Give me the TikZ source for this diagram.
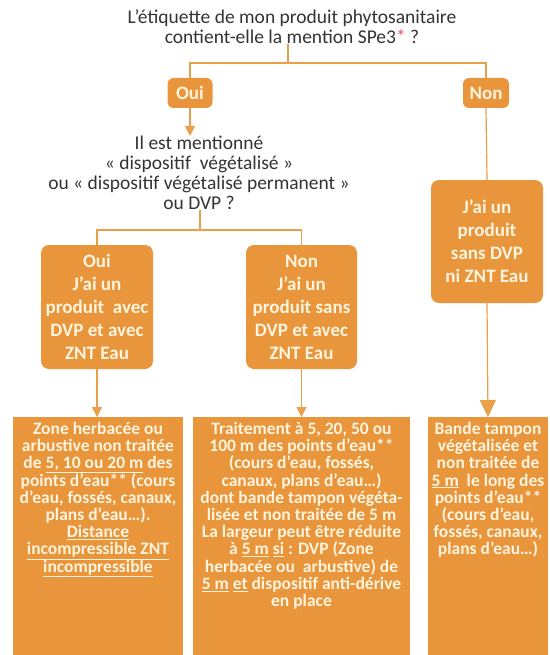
\documentclass[tikz,border=0pt]{standalone}
\usepackage{fontspec}
\setmainfont{Carlito}
\usetikzlibrary{arrows.meta}

\definecolor{boxorange}{HTML}{E8953C}
\definecolor{lineorange}{HTML}{E8A04A}
\definecolor{boxtext}{HTML}{FFF4DE}
\definecolor{asktext}{HTML}{333333}
\definecolor{starred}{HTML}{E8505B}

\setlength{\lineskiplimit}{-30pt}

\begin{document}
\begin{tikzpicture}[x=1pt, y=-1pt,
    link/.style={draw=lineorange, line width=1.2pt},
    tip/.style={-{Triangle[width=10pt,length=10pt]}},
    bigtip/.style={-{Triangle[width=16pt,length=17pt]}},
    answer/.style={fill=boxorange, text=boxtext, rounded corners=6pt, inner sep=0pt,
        align=center, font=\fontsize{19}{23}\selectfont\bfseries},
    outcome/.style={fill=boxorange, inner sep=0pt, anchor=north},
    outtext/.style={text=boxtext, inner sep=0pt, anchor=north, align=center,
        font=\fontsize{17.5}{17.2}\selectfont\bfseries},
    ask/.style={text=asktext, align=center, inner sep=0pt, font=\fontsize{19.5}{20}\selectfont}]

    \useasboundingbox (0,0) rectangle (549,655);

    \def\cinq{\underline{5 m}}

    % question de depart
    \node[ask] (label) at (292,27) {L’étiquette de mon produit phytosanitaire\\
        contient-elle la mention SPe3\textcolor{starred}{*} ?};
    \coordinate (split) at (288,63);

    \node[answer, minimum width=45pt, minimum height=30pt] (oui) at (190,93) {Oui};
    \node[answer, minimum width=46pt, minimum height=30pt] (non) at (486,93) {Non};

    \node[ask] (mention) at (199,173) {Il est mentionné\\
        « dispositif\ \ végétalisé »\\
        ou « dispositif végétalisé permanent »\\
        ou DVP ?};
    \coordinate (fork) at (200,230);

    \node[answer, rounded corners=8pt, minimum width=112pt, minimum height=124pt] (avec) at (97,307)
        {Oui\\J’ai un\\produit\ \ avec\\DVP et avec\\ZNT Eau};
    \node[answer, rounded corners=8pt, minimum width=111pt, minimum height=124pt] (sans) at (301.5,307)
        {Non\\J’ai un\\produit sans\\DVP et avec\\ZNT Eau};
    \node[answer, rounded corners=8pt, minimum width=112pt, minimum height=123pt] (nidvp) at (487,241.5)
        {J’ai un\\produit\\sans DVP\\ni ZNT Eau};

    % zones
    \node[outcome, minimum width=170pt, minimum height=238pt] (zone) at (98,417) {};
    \node[outcome, minimum width=217pt, minimum height=238pt] (traitement) at (301.5,417) {};
    \node[outcome, minimum width=120pt, minimum height=238pt] (bande) at (488,417) {};

    \node[outtext] (zonetxt) at ([yshift=-5pt]zone.north) {Zone herbacée ou\\
        arbustive non traitée\\
        de \underline{5, 10 ou 20 m} des\\
        points d’eau** (cours\\
        d’eau, fossés, canaux,\\
        plans d’eau…).\\
        \underline{Distance}\\
        \underline{incompressible ZNT}\\
        \underline{incompressible}};
    \node[outtext] (traitementtxt) at ([yshift=-5pt]traitement.north) {Traitement à 5, 20, 50 ou\\
        100 m des points d’eau**\\
        (cours d’eau, fossés,\\
        canaux, plans d’eau…)\\
        dont bande tampon végéta-\\
        lisée et non traitée de 5 m\\
        La largeur peut être réduite\\
        à \cinq\ \underline{si} : DVP (Zone\\
        herbacée ou\ \ arbustive) de\\
        \cinq\ \underline{et} dispositif anti-dérive\\
        en place};
    \node[outtext] (bandetxt) at ([yshift=-5pt]bande.north) {Bande tampon\\
        végétalisée et\\
        non traitée de\\
        \cinq\ \ le long des\\
        points d’eau**\\
        (cours d’eau,\\
        fossés, canaux,\\
        plans d’eau…)};

    \draw[link] (label.south -| split) -- (split);
    \draw[link] (oui.north) -- (oui.north |- split) -| (non.north);
    \draw[link, tip] (oui.south) -- (oui.south |- mention.north);
    \draw[link] (mention.south -| fork) -- (fork);
    \draw[link] (avec.north) -- (avec.north |- fork) -| (sans.north);
    \draw[link] (non.south) -- (nidvp.north);

    \draw[link, tip] (avec.south) -- (avec.south |- zone.north);
    \draw[link, tip] (sans.south) -- (sans.south |- traitement.north);
    \draw[link, bigtip] (nidvp.south) -- (bande.north);
\end{tikzpicture}
\end{document}
